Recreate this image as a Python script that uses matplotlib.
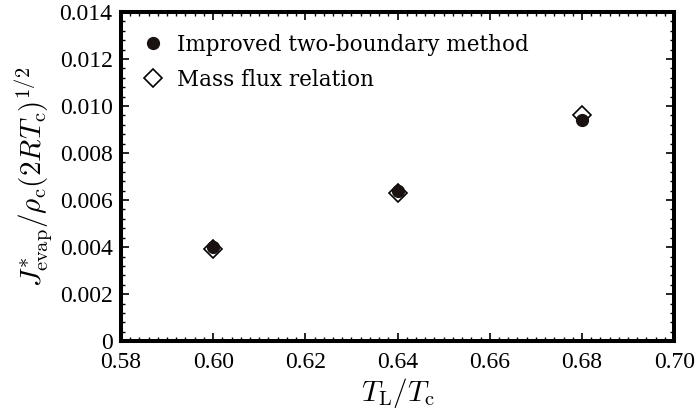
import matplotlib.pyplot as plt
from matplotlib.ticker import MultipleLocator, FixedFormatter, FixedLocator

plt.rcParams['font.family'] = ['Liberation Serif', 'DejaVu Serif']
plt.rcParams['mathtext.fontset'] = 'cm'

# temperature ratio T_L/T_c
t_ratio = [0.60, 0.64, 0.68]
# dimensionless evaporation mass flux
j_two_boundary = [0.0040, 0.0064, 0.0094]
j_mass_flux = [0.0039, 0.0063, 0.0096]

x_ticks = [0.58, 0.60, 0.62, 0.64, 0.66, 0.68, 0.70]
x_tick_labels = ['0.58', '0.60', '0.62', '0.64', '0.66', '0.68', '0.70']
y_ticks = [0, 0.002, 0.004, 0.006, 0.008, 0.010, 0.012, 0.014]
y_tick_labels = ['0', '0.002', '0.004', '0.006', '0.008', '0.010', '0.012', '0.014']

fig, ax = plt.subplots(figsize=(6.95, 4.16), dpi=100)
fig.subplots_adjust(left=0.174, right=0.970, top=0.971, bottom=0.180)

ax.plot(t_ratio, j_mass_flux, 'D', ms=9, mfc='white', mec='black', mew=1.2,
        label='Mass flux relation', zorder=2)
ax.plot(t_ratio, j_two_boundary, 'o', ms=8.5, color='#1a1111',
        label='Improved two-boundary method', zorder=3)

ax.set_xlim(0.58, 0.70)
ax.set_ylim(0, 0.014)
ax.xaxis.set_major_locator(FixedLocator(x_ticks))
ax.xaxis.set_major_formatter(FixedFormatter(x_tick_labels))
ax.yaxis.set_major_locator(FixedLocator(y_ticks))
ax.yaxis.set_major_formatter(FixedFormatter(y_tick_labels))
ax.xaxis.set_minor_locator(MultipleLocator(0.002))
ax.yaxis.set_minor_locator(MultipleLocator(0.0004))

ax.tick_params(which='both', direction='in', top=True, right=True, labelsize=17)
ax.tick_params(which='major', length=6, width=1.2)
ax.tick_params(axis='x', which='major', pad=8)
ax.tick_params(axis='y', which='major', pad=6)
ax.tick_params(which='minor', length=3, width=1.0)
for s in ax.spines.values():
    s.set_linewidth(2.9)

ax.set_xlabel(r'$T_{\mathrm{L}}/T_{\mathrm{c}}$', fontsize=21, labelpad=2)
ax.set_ylabel(r'$J^{*}_{\mathrm{evap}}/\rho_{\mathrm{c}}(2RT_{\mathrm{c}})^{1/2}$',
              fontsize=21, labelpad=3)

h, l = ax.get_legend_handles_labels()
ax.legend(h[::-1], l[::-1], loc='upper left', frameon=False,
          prop={'family': 'DejaVu Serif', 'size': 15.5},
          handletextpad=0.6, borderaxespad=0.55, borderpad=0.45,
          labelspacing=0.62, handlelength=1.0)

fig.savefig('out.png', dpi=100)
